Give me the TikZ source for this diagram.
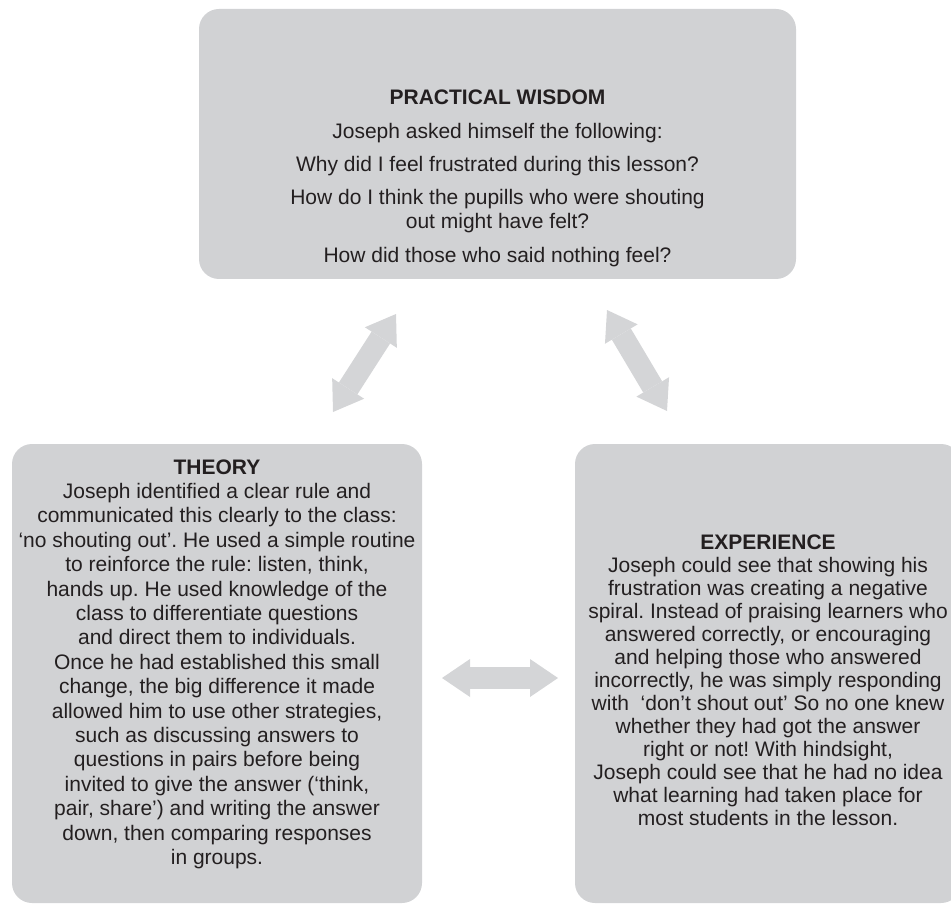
\documentclass[tikz,border=0pt]{standalone}
\usepackage{fontspec}
\setmainfont{Liberation Sans}
\usetikzlibrary{arrows.meta}
\definecolor{boxgray}{HTML}{D1D2D4}
\definecolor{arrowgray}{HTML}{D4D5D7}
\definecolor{ink}{HTML}{231F20}
\newcommand{\txtblock}[3]{\parbox[t]{#1}{\centering\frenchspacing\fontsize{10.5pt}{#2}\selectfont #3}}
\begin{document}
\begin{tikzpicture}[x=0.5pt,y=-0.5pt,
  panel/.style={rectangle, rounded corners=10pt, fill=boxgray, draw=none, inner sep=0pt},
  txt/.style={anchor=base, inner sep=0pt, text=ink},
  fatarrow/.style={draw=arrowgray, line width=11pt,
    >={Triangle[width=19pt,length=14pt,line width=0pt]}, <->}]
\useasboundingbox (0,0) rectangle (951,903);
\clip (0,0) rectangle (951,903);

% panels
\node[panel, minimum width=298.5pt, minimum height=135pt] (pw) at (497.5,144) {};
\node[panel, minimum width=205pt, minimum height=229.5pt] (theory) at (217,673.5) {};
\node[panel, minimum width=193pt, minimum height=229.5pt] (exp) at (768,673.5) {};

% texts
\node[txt] (pwtext) at (497.5,105) {\txtblock{300pt}{12.2pt}{%
\textbf{PRACTICAL WISDOM}\\[4.4pt]
Joseph asked himself the following:\\[4.4pt]
Why did I feel frustrated during this lesson?\\[4.4pt]
How do I think the pupills who were shouting\\
out might have felt?\\[4.4pt]
How did those who said nothing feel?}};

\node[txt] (thtext) at (217,474) {\txtblock{240pt}{12.2pt}{%
\textbf{THEORY}\\
Joseph identified a clear rule and\\
communicated this clearly to the class:\\
‘no shouting out’. He used a simple routine\\
to reinforce the rule: listen, think,\\
hands up. He used knowledge of the\\
class to differentiate questions\\
and direct them to individuals.\\
Once he had established this small\\
change, the big difference it made\\
allowed him to use other strategies,\\
such as discussing answers to\\
questions in pairs before being\\
invited to give the answer (‘think,\\
pair, share’) and writing the answer\\
down, then comparing responses\\
in groups.}};

\node[txt] (extext) at (768,549) {\txtblock{240pt}{11.5pt}{%
\textbf{EXPERIENCE}\\
Joseph could see that showing his\\
frustration was creating a negative\\
spiral. Instead of praising learners who\\
answered correctly, or encouraging\\
and helping those who answered\\
incorrectly, he was simply responding\\
with\ \ ‘don’t shout out’ So no one knew\\
whether they had got the answer\\
right or not! With hindsight,\\
Joseph could see that he had no idea\\
what learning had taken place for\\
most students in the lesson.}};

% arrow end points
\coordinate (a1) at (333,412);
\coordinate (a2) at (396,314);
\coordinate (b1) at (607,310);
\coordinate (b2) at (667,411);
\coordinate (c1) at (442,678);
\coordinate (c2) at (558,678);

\draw[fatarrow] (a1) -- (a2);
\draw[fatarrow] (b1) -- (b2);
\draw[fatarrow] (c1) -- (c2);
\end{tikzpicture}
\end{document}
